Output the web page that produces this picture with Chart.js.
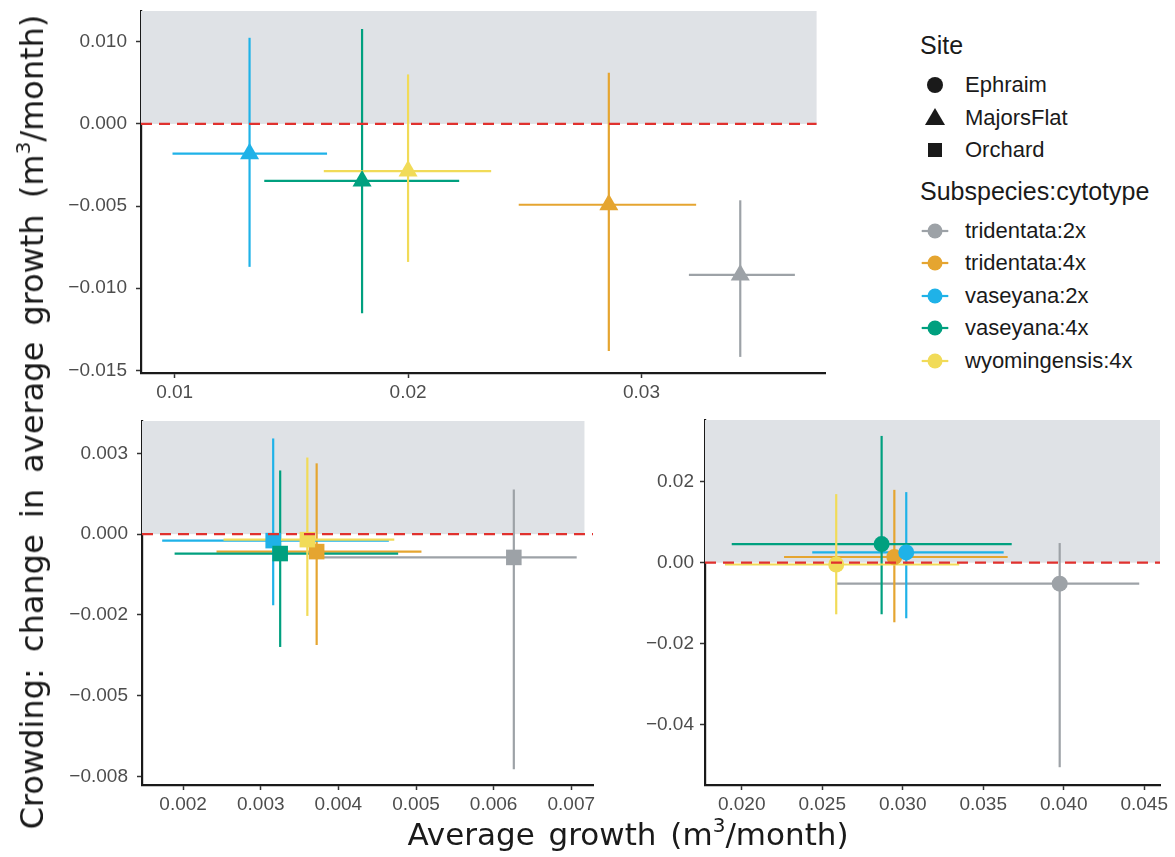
<!DOCTYPE html>
<html>
<head>
<meta charset="utf-8">
<script src="https://cdn.jsdelivr.net/npm/chart.js@4.4.1/dist/chart.umd.min.js"></script>
<style>
  html, body { margin: 0; padding: 0; background: #fff; }
  #page { position: relative; width: 1175px; height: 857px; overflow: hidden; }
  canvas { position: absolute; }
  .axis-title { position: absolute; font-family: "DejaVu Sans", sans-serif; font-size: 31px; color: #1a1a1a; white-space: nowrap; word-spacing: 4px; }
  .axis-title sup { font-size: 20px; vertical-align: 13px; line-height: 0; }
  #xTitle { left: 0; width: 1256px; top: 816px; text-align: center; }
  #yTitle { left: 32px; top: 422px; font-size: 32px; word-spacing: 6px; transform: translate(-50%, -50%) rotate(-90deg); }
  #legend { position: absolute; left: 920px; top: 0; font-family: "Liberation Sans", Arial, sans-serif; color: #1a1a1a; }
  .lg-title { position: absolute; left: 0; font-size: 25px; white-space: nowrap; line-height: 1; }
  .lg-item { position: absolute; left: 45px; font-size: 22px; white-space: nowrap; line-height: 1; transform: translateY(-50%); }
  .lg-key { position: absolute; left: 0; }
</style>
</head>
<body>
<div id="page">
  <canvas id="majorsChart" width="800" height="410" style="left:40px;top:0px"></canvas>
  <canvas id="orchardChart" width="570" height="420" style="left:40px;top:410px"></canvas>
  <canvas id="ephraimChart" width="560" height="420" style="left:610px;top:410px"></canvas>
  <div class="axis-title" id="yTitle">Crowding:  change in average growth (m<sup>3</sup>/month)</div>
  <div class="axis-title" id="xTitle">Average  growth (m<sup>3</sup>/month)</div>
  <div id="legend"></div>
</div>
<script>
// groups (subspecies:cytotype) and colours
const groups = ['tridentata:2x', 'tridentata:4x', 'vaseyana:2x', 'vaseyana:4x', 'wyomingensis:4x'];
const groupColors = ['#9DA2A7', '#E5A530', '#1FB2E8', '#00A07F', '#F1DB58'];
const sites = ['Ephraim', 'MajorsFlat', 'Orchard'];

// MajorsFlat (top panel)
const majorsX = [0.03423, 0.0286, 0.01321, 0.01803, 0.0200];
const majorsY = [-0.00919, -0.00492, -0.00181, -0.00347, -0.00287];
const majorsXLow = [0.03203, 0.02474, 0.00991, 0.01384, 0.01639];
const majorsXHigh = [0.03657, 0.03234, 0.01653, 0.02219, 0.02356];
const majorsYLow = [-0.01418, -0.01382, -0.0087, -0.01153, -0.0084];
const majorsYHigh = [-0.00465, 0.00311, 0.00524, 0.00578, 0.00301];
const majorsXTicks = [0.01, 0.02, 0.03];
const majorsXTickLabels = ['0.01', '0.02', '0.03'];
const majorsYTicks = [0.005, 0, -0.005, -0.01, -0.015];
const majorsYTickLabels = ['0.010', '0.000', '\u22120.005', '\u22120.010', '\u22120.015'];

// Orchard (bottom left)
const orchardX = [0.00626, 0.00372, 0.00316, 0.00325, 0.0036];
const orchardY = [-0.00072, -0.00054, -0.0002, -0.0006, -0.00017];
const orchardXLow = [0.0037, 0.00243, 0.00173, 0.00189, 0.00252];
const orchardXHigh = [0.00707, 0.00507, 0.00465, 0.00477, 0.00472];
const orchardYLow = [-0.00727, -0.00343, -0.0022, -0.00349, -0.00253];
const orchardYHigh = [0.00138, 0.00219, 0.00296, 0.00197, 0.00237];
const orchardXTicks = [0.002, 0.003, 0.004, 0.005, 0.006, 0.007];
const orchardXTickLabels = ['0.002', '0.003', '0.004', '0.005', '0.006', '0.007'];
const orchardYTicks = [0.0025, 0, -0.0025, -0.005, -0.0075];
const orchardYTickLabels = ['0.003', '0.000', '\u22120.002', '\u22120.005', '\u22120.008'];

// Ephraim (bottom right)
const ephraimX = [0.03975, 0.02948, 0.03022, 0.02869, 0.02587];
const ephraimY = [-0.00519, 0.00141, 0.00254, 0.00461, -0.00045];
const ephraimXLow = [0.02587, 0.02263, 0.02438, 0.01938, 0.01896];
const ephraimXHigh = [0.04469, 0.03652, 0.03627, 0.03677, 0.03351];
const ephraimYLow = [-0.0506, -0.01474, -0.01375, -0.01276, -0.01277];
const ephraimYHigh = [0.00486, 0.01802, 0.01746, 0.03136, 0.01696];
const ephraimXTicks = [0.020, 0.025, 0.030, 0.035, 0.040, 0.045];
const ephraimXTickLabels = ['0.020', '0.025', '0.030', '0.035', '0.040', '0.045'];
const ephraimYTicks = [0.02, 0, -0.02, -0.04];
const ephraimYTickLabels = ['0.02', '0.00', '\u22120.02', '\u22120.04'];

const tickFont = { family: '"Liberation Sans", Arial, sans-serif', size: 19 };
const tickColor = '#4d4d4d';

// grey band above zero
const shadePlugin = {
    id: 'shade',
    beforeDatasetsDraw(chart, args, opts) {
        const { ctx, chartArea, scales } = chart;
        const right = Math.min(scales.x.getPixelForValue(opts.xMax), chartArea.right);
        const zero = scales.y.getPixelForValue(0);
        ctx.save();
        ctx.fillStyle = '#DFE2E6';
        ctx.fillRect(chartArea.left, chartArea.top, right - chartArea.left, zero - chartArea.top);
        ctx.restore();
    }
};

function buildPanel(canvasId, p) {
    const datasets = [];
    // dashed zero line
    datasets.push({
        data: [{ x: p.xMin, y: 0 }, { x: p.lineMax, y: 0 }],
        showLine: true, pointRadius: 0, borderColor: '#E0312E', borderWidth: 2.2,
        borderDash: [11, 7], order: 0
    });
    groups.forEach((g, i) => {
        datasets.push({
            data: [{ x: p.x[i], y: p.y[i] }],
            pointStyle: p.shape, pointRadius: p.radius, pointBackgroundColor: groupColors[i],
            pointBorderWidth: 0, order: 10 - i
        });
        datasets.push({
            data: [{ x: p.xLow[i], y: p.y[i] }, { x: p.xHigh[i], y: p.y[i] }],
            showLine: true, pointRadius: 0, borderColor: groupColors[i], borderWidth: 2.2, order: 30 - i
        });
        datasets.push({
            data: [{ x: p.x[i], y: p.yLow[i] }, { x: p.x[i], y: p.yHigh[i] }],
            showLine: true, pointRadius: 0, borderColor: groupColors[i], borderWidth: 2.2, order: 30 - i
        });
    });

    const axisCommon = {
        type: 'linear',
        border: { display: true, color: '#1a1a1a', width: 2.2 },
        grid: { drawOnChartArea: false, drawTicks: true, tickLength: 5, tickColor: '#333', tickWidth: 1.5 },
    };

    new Chart(document.getElementById(canvasId), {
        type: 'scatter',
        data: { datasets },
        options: {
            responsive: false,
            devicePixelRatio: 1,
            animation: false,
            events: [],
            layout: { padding: { top: p.padTop, right: p.padRight, left: 0, bottom: 0 } },
            plugins: { legend: { display: false }, tooltip: { enabled: false }, shade: { xMax: p.shadeMax } },
            scales: {
                x: Object.assign({}, axisCommon, {
                    min: p.xMin, max: p.xMax,
                    afterBuildTicks: (s) => { s.ticks = p.xTicks.map(v => ({ value: v })); },
                    afterFit: (s) => { s.height = p.xAxisHeight; s.paddingLeft = 0; s.paddingRight = 0; },
                    ticks: { font: tickFont, color: tickColor, padding: 3, maxRotation: 0,
                        callback: (v, idx) => p.xTickLabels[idx] }
                }),
                y: Object.assign({}, axisCommon, {
                    min: p.yMin, max: p.yMax,
                    afterBuildTicks: (s) => { s.ticks = p.yTicks.map(v => ({ value: v })); },
                    afterFit: (s) => { s.width = p.yAxisWidth; s.paddingTop = 0; s.paddingBottom = 0; },
                    ticks: { font: tickFont, color: tickColor, padding: p.yPad,
                        callback: (v, idx) => p.yTickLabels[idx] }
                })
            }
        },
        plugins: [shadePlugin]
    });
}

buildPanel('majorsChart', {
    x: majorsX, y: majorsY, xLow: majorsXLow, xHigh: majorsXHigh, yLow: majorsYLow, yHigh: majorsYHigh,
    xTicks: majorsXTicks, xTickLabels: majorsXTickLabels, yTicks: majorsYTicks, yTickLabels: majorsYTickLabels,
    xMin: 0.00856, xMax: 0.03786, yMin: -0.01516, yMax: 0.00687, shadeMax: 0.0375, lineMax: 0.0375,
    shape: 'triangle', radius: 11, padTop: 5, padRight: 15, xAxisHeight: 37, yAxisWidth: 101, yPad: 9
});

buildPanel('orchardChart', {
    x: orchardX, y: orchardY, xLow: orchardXLow, xHigh: orchardXHigh, yLow: orchardYLow, yHigh: orchardYHigh,
    xTicks: orchardXTicks, xTickLabels: orchardXTickLabels, yTicks: orchardYTicks, yTickLabels: orchardYTickLabels,
    xMin: 0.00147, xMax: 0.00728, yMin: -0.00776, yMax: 0.0035, shadeMax: 0.00717, lineMax: 0.00728,
    shape: 'rect', radius: 11, padTop: 9, padRight: 17, xAxisHeight: 45, yAxisWidth: 102, yPad: 9
});

buildPanel('ephraimChart', {
    x: ephraimX, y: ephraimY, xLow: ephraimXLow, xHigh: ephraimXHigh, yLow: ephraimYLow, yHigh: ephraimYHigh,
    xTicks: ephraimXTicks, xTickLabels: ephraimXTickLabels, yTicks: ephraimYTicks, yTickLabels: ephraimYTickLabels,
    xMin: 0.01772, xMax: 0.04598, yMin: -0.055, yMax: 0.0353, shadeMax: 0.04598, lineMax: 0.04598,
    shape: 'circle', radius: 8, padTop: 10, padRight: 10, xAxisHeight: 45, yAxisWidth: 95, yPad: 6
});

// legend (HTML + small svg keys)
function buildLegend() {
    const lg = document.getElementById('legend');
    let html = '<div class="lg-title" style="top:33px">Site</div>';
    const shapeY = [85, 118, 150];
    const shapeSvg = [
        '<circle cx="15" cy="15" r="8" fill="#1a1a1a"/>',
        '<polygon points="15,5 25,22 5,22" fill="#1a1a1a"/>',
        '<rect x="8" y="8" width="14" height="14" fill="#1a1a1a"/>'
    ];
    sites.forEach((s, i) => {
        html += `<svg class="lg-key" width="30" height="30" style="top:${shapeY[i] - 15}px;left:0">${shapeSvg[i]}</svg>`;
        html += `<div class="lg-item" style="top:${shapeY[i]}px">${s}</div>`;
    });
    html += '<div class="lg-title" style="top:179px">Subspecies:cytotype</div>';
    const colY = [231, 263, 296, 328, 361];
    groups.forEach((g, i) => {
        html += `<svg class="lg-key" width="30" height="30" style="top:${colY[i] - 15}px;left:0">` +
            `<line x1="1.7" y1="15" x2="28.3" y2="15" stroke="${groupColors[i]}" stroke-width="2.2"/>` +
            `<circle cx="15" cy="15" r="7.5" fill="${groupColors[i]}"/></svg>`;
        html += `<div class="lg-item" style="top:${colY[i]}px">${g}</div>`;
    });
    lg.innerHTML = html;
}
buildLegend();
</script>
</body>
</html>
